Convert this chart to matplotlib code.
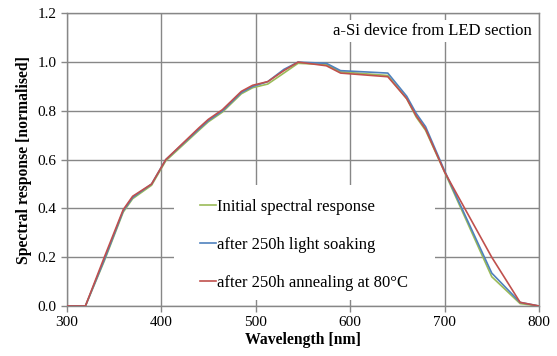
import matplotlib
matplotlib.use('Agg')
import matplotlib.pyplot as plt
from matplotlib.patches import Rectangle

# wavelength [nm] and normalised spectral response
wavelength = [300, 320, 340, 360, 370, 390, 405, 440, 450, 465, 485, 497, 513, 530,
              545, 575, 590, 640, 660, 670, 680, 700, 750, 780, 800]
initial = [0, 0, 0.185, 0.385, 0.44, 0.495, 0.595, 0.72, 0.755, 0.795, 0.87, 0.895, 0.91, 0.955,
           0.995, 0.99, 0.96, 0.945, 0.85, 0.775, 0.72, 0.55, 0.12, 0.01, 0]
soaked = [0, 0, 0.19, 0.39, 0.445, 0.5, 0.6, 0.725, 0.76, 0.8, 0.875, 0.9, 0.92, 0.97,
          1.0, 0.995, 0.965, 0.955, 0.86, 0.79, 0.735, 0.555, 0.135, 0.015, 0]
annealed = [0, 0, 0.2, 0.395, 0.45, 0.5, 0.6, 0.73, 0.765, 0.805, 0.88, 0.905, 0.92, 0.965,
            1.0, 0.985, 0.955, 0.94, 0.85, 0.78, 0.725, 0.55, 0.2, 0.015, 0]

labels = ['Initial spectral response', 'after 250h light soaking', 'after 250h annealing at 80\u00b0C']
colors = ['#9BBB59', '#4F81BD', '#C0504D']

plt.rcParams['font.family'] = ['Liberation Serif', 'DejaVu Serif']

fig = plt.figure(figsize=(5.57, 3.56), dpi=100)
ax = fig.add_axes([0.1194, 0.1404, 0.8483, 0.8222])

grey = '#878787'
for series, lab, col in zip([initial, soaked, annealed], labels, colors):
    ax.plot(wavelength, series, color=col, lw=1.2, label=lab, zorder=3)

ax.set_xlim(300, 800)
ax.set_ylim(0, 1.2)
ax.set_xticks([300, 400, 500, 600, 700, 800])
ax.set_yticks([0.0, 0.2, 0.4, 0.6, 0.8, 1.0, 1.2])
ax.set_yticklabels(['%.1f' % v for v in [0.0, 0.2, 0.4, 0.6, 0.8, 1.0, 1.2]])
ax.grid(True, color=grey, lw=1.0, zorder=1)
ax.set_axisbelow(True)
for sp in ax.spines.values():
    sp.set_color(grey)
    sp.set_linewidth(1.0)
ax.tick_params(axis='both', direction='out', length=4, width=1.0, color=grey,
               labelsize=11, pad=3)

ax.set_xlabel('Wavelength [nm]', fontsize=11.3, fontweight='bold', labelpad=2)
ax.set_ylabel('Spectral response [normalised]', fontsize=11.3, fontweight='bold', labelpad=4)

# white area behind the legend hides the gridlines
ax.add_patch(Rectangle((0.2275, 0.02), 0.5525, 0.393, transform=ax.transAxes,
                       facecolor='white', edgecolor='none', zorder=2))
leg = ax.legend(loc='upper left', bbox_to_anchor=(0.2825, 0.365), frameon=False,
                fontsize=12, handlelength=0.96, handletextpad=0.08,
                labelspacing=1.3, borderpad=0, borderaxespad=0)

ax.text(0.985, 0.94, 'a-Si device from LED section', transform=ax.transAxes,
        ha='right', va='center', fontsize=12, zorder=4,
        bbox=dict(facecolor='white', edgecolor='none', pad=2))

fig.savefig('out.png', dpi=100)
